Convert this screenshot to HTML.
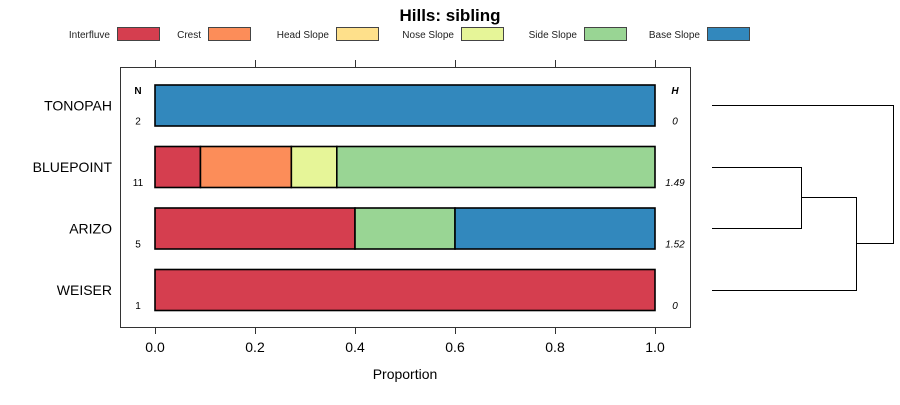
<!DOCTYPE html>
<html><head><meta charset="utf-8"><style>
body{margin:0;background:#fff;font-family:"Liberation Sans",sans-serif}
</style></head><body>
<svg id="c" width="900" height="400" xmlns="http://www.w3.org/2000/svg" font-family="Liberation Sans, sans-serif">
<text x="450" y="21" text-anchor="middle" font-size="17" font-weight="bold">Hills: sibling</text>
<g id="legend"></g>
<rect x="120.5" y="67.5" width="570" height="260" fill="none" stroke="#333"/>
<g id="bars"></g>
<g id="axis"></g>
<text x="405" y="379" text-anchor="middle" font-size="14">Proportion</text>
<text x="138" y="94" text-anchor="middle" font-size="10" font-weight="bold">N</text>
<text x="675" y="94" text-anchor="middle" font-size="10" font-weight="bold" font-style="italic">H</text>
<g id="dendro" fill="none" stroke="#000">
<path d="M712 105.5H893.5V243.5H856.5M712 167.5H801.5V228.5H712M801.5 197.5H856.5V290.5H712"/>
</g>
</svg>
<script>
const categories=["TONOPAH","BLUEPOINT","ARIZO","WEISER"];
const seriesNames=["Interfluve","Crest","Head Slope","Nose Slope","Side Slope","Base Slope"];
const colors=["#d53e4f","#fc8d59","#fee08b","#e6f598","#99d594","#3288bd"];
const interfluve=[0,0.0909,0.4,1];
const crest=[0,0.1818,0,0];
const headSlope=[0,0,0,0];
const noseSlope=[0,0.0909,0,0];
const sideSlope=[0,0.6364,0.2,0];
const baseSlope=[1,0,0.4,0];
const nValues=["2","11","5","1"];
const hValues=["0","1.49","1.52","0"];
const ticks=[0,0.2,0.4,0.6,0.8,1.0];
const series=[interfluve,crest,headSlope,noseSlope,sideSlope,baseSlope];
const NS="http://www.w3.org/2000/svg";
const x=v=>155+v*500;
const yc=i=>105.5+i*61.5;
function mk(t,a,p){const e=document.createElementNS(NS,t);for(const k in a)e.setAttribute(k,a[k]);p.appendChild(e);return e;}
const bars=document.getElementById('bars');
categories.forEach((c,i)=>{
  let cum=0;
  series.forEach((s,j)=>{
    const v=s[i]; if(v<=0)return;
    const r=mk('rect',{x:x(cum),y:yc(i)-20.5,width:v*500,height:41,fill:colors[j],stroke:'#000','stroke-width':1.6},bars);
    
    
    cum+=v;
  });
  const l=mk('text',{x:112,y:yc(i)+5,'text-anchor':'end','font-size':14},bars);l.textContent=c;
  
  
  const n=mk('text',{x:138,y:yc(i)+19,'text-anchor':'middle','font-size':10},bars);n.textContent=nValues[i];
  
  
  const h=mk('text',{x:675,y:yc(i)+19,'text-anchor':'middle','font-size':10,'font-style':'italic'},bars);h.textContent=hValues[i];
  
  
});
const ax=document.getElementById('axis');
ticks.forEach(t=>{
  const p=mk('path',{d:`M${x(t)+0.5} 327V334M${x(t)+0.5} 67V60`,stroke:'#333'},ax);
  
  
  const tx=mk('text',{x:x(t),y:352,'text-anchor':'middle','font-size':14},ax);tx.textContent=t.toFixed(1);
  
  
});
const lg=document.getElementById('legend');
const lgX=[117,208,336,461,584,707];
seriesNames.forEach((s,j)=>{
  const t=mk('text',{x:lgX[j]-7,y:38,'text-anchor':'end','font-size':10,fill:'#222'},lg);t.textContent=s;
  
  
  const r=mk('rect',{x:lgX[j]+0.5,y:27.5,width:42,height:13,fill:colors[j],stroke:'#444'},lg);
  
  
});
</script>
</body></html>
